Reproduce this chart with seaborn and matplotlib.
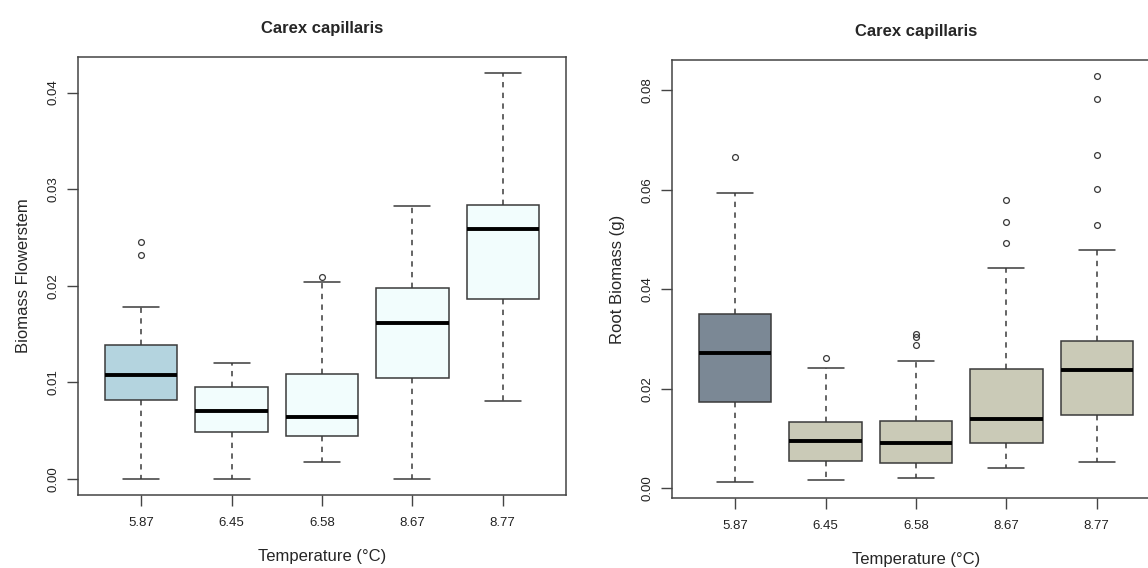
import pandas as pd
import matplotlib
matplotlib.use('Agg')
import matplotlib.pyplot as plt
import seaborn as sns

# temperature groups (x categories)
temps = ['5.87', '6.45', '6.58', '8.67', '8.77']

# flowerstem biomass: whisker ends, hinges, medians, outliers
flower_lo = [0.0, 0.0, 0.00176, 0.0, 0.00805]
flower_q1 = [0.00816, 0.00487, 0.00446, 0.01044, 0.0186]
flower_med = [0.01071, 0.00698, 0.00639, 0.01611, 0.02589]
flower_q3 = [0.01383, 0.0095, 0.0109, 0.01977, 0.02832]
flower_hi = [0.01774, 0.0120, 0.0204, 0.02822, 0.0420]
flower_out = [[0.02316, 0.02455], [], [0.0209], [], []]

# root biomass
root_lo = [0.00134, 0.00167, 0.00202, 0.00403, 0.00524]
root_q1 = [0.01741, 0.00558, 0.00504, 0.00914, 0.0147]
root_med = [0.02715, 0.00954, 0.0092, 0.01398, 0.02386]
root_q3 = [0.0351, 0.01344, 0.01364, 0.02406, 0.0296]
root_hi = [0.0593, 0.02413, 0.02568, 0.04438, 0.04793]
root_out = [[0.06663], [0.02622], [0.02891, 0.03046, 0.03106],
            [0.04922, 0.05345, 0.05789], [0.05291, 0.06017, 0.06709, 0.07833, 0.08283]]

flower_cols = ['#ADD8E6', '#F0FFFF', '#F0FFFF', '#F0FFFF', '#F0FFFF']
root_cols = ['#778899', '#CDCDB4', '#CDCDB4', '#CDCDB4', '#CDCDB4']


def make_frame(lo, q1, med, q3, hi, out):
    # ten copies of each hinge/median so numpy's percentiles land on the read values
    rows = []
    for i, t in enumerate(temps):
        vals = [lo[i]] + [q1[i]] * 10 + [med[i]] * 10 + [q3[i]] * 10 + [hi[i]] + out[i]
        rows += [(t, v) for v in vals]
    return pd.DataFrame(rows, columns=['temp', 'value'])


flower = make_frame(flower_lo, flower_q1, flower_med, flower_q3, flower_hi, flower_out)
root = make_frame(root_lo, root_q1, root_med, root_q3, root_hi, root_out)

sns.set_style('white')
plt.rcParams['font.family'] = ['Liberation Sans', 'DejaVu Sans']

W, H = 1148, 568
fig = plt.figure(figsize=(W / 100, H / 100), dpi=100)
ax1 = fig.add_axes([78 / W, 1 - 495 / H, 488 / W, 438 / H])
ax2 = fig.add_axes([672 / W, 1 - 498 / H, 488 / W, 438 / H])

edge = '#3a3a3a'


def draw(ax, df, cols, ylab, ticks, data_min, data_max):
    sns.boxplot(data=df, x='temp', y='value', hue='temp', order=temps, hue_order=temps,
                palette=cols, legend=False, width=0.8, whis=1.5, ax=ax,
                linecolor=edge, linewidth=1.1,
                medianprops=dict(color='black', linewidth=2.8),
                whiskerprops=dict(linestyle=(0, (3.5, 3.5))),
                capprops=dict(linestyle='-'),
                flierprops=dict(marker='o', markerfacecolor='none',
                                markeredgecolor=edge, markersize=4.2, markeredgewidth=0.9))
    ax.set_xlim(-0.7, 4.7)
    pad = (data_max - data_min) * 0.04
    ax.set_ylim(data_min - pad, data_max + pad)
    ax.set_yticks(ticks)
    ax.set_yticklabels(['%.2f' % t for t in ticks], rotation=90, va='center')
    ax.set_xlabel('Temperature (°C)', fontsize=12, labelpad=14)
    ax.set_ylabel(ylab, fontsize=12, labelpad=12)
    ax.set_title('Carex capillaris', fontsize=12, fontweight='bold', pad=17)
    ax.tick_params(axis='both', which='both', direction='out', length=8, width=1,
                   color='#444444', labelsize=9.5, labelcolor='#222222', pad=8,
                   bottom=True, left=True)
    ax.tick_params(axis='y', pad=5)
    for s in ax.spines.values():
        s.set_visible(True)
        s.set_color('#444444')
        s.set_linewidth(1.1)


draw(ax1, flower, flower_cols, 'Biomass Flowerstem', [0.0, 0.01, 0.02, 0.03, 0.04],
     min(flower_lo), max(flower_hi))
draw(ax2, root, root_cols, 'Root Biomass (g)', [0.0, 0.02, 0.04, 0.06, 0.08],
     min(root_lo), max(max(o) for o in root_out))

fig.savefig('out.png', dpi=100)
